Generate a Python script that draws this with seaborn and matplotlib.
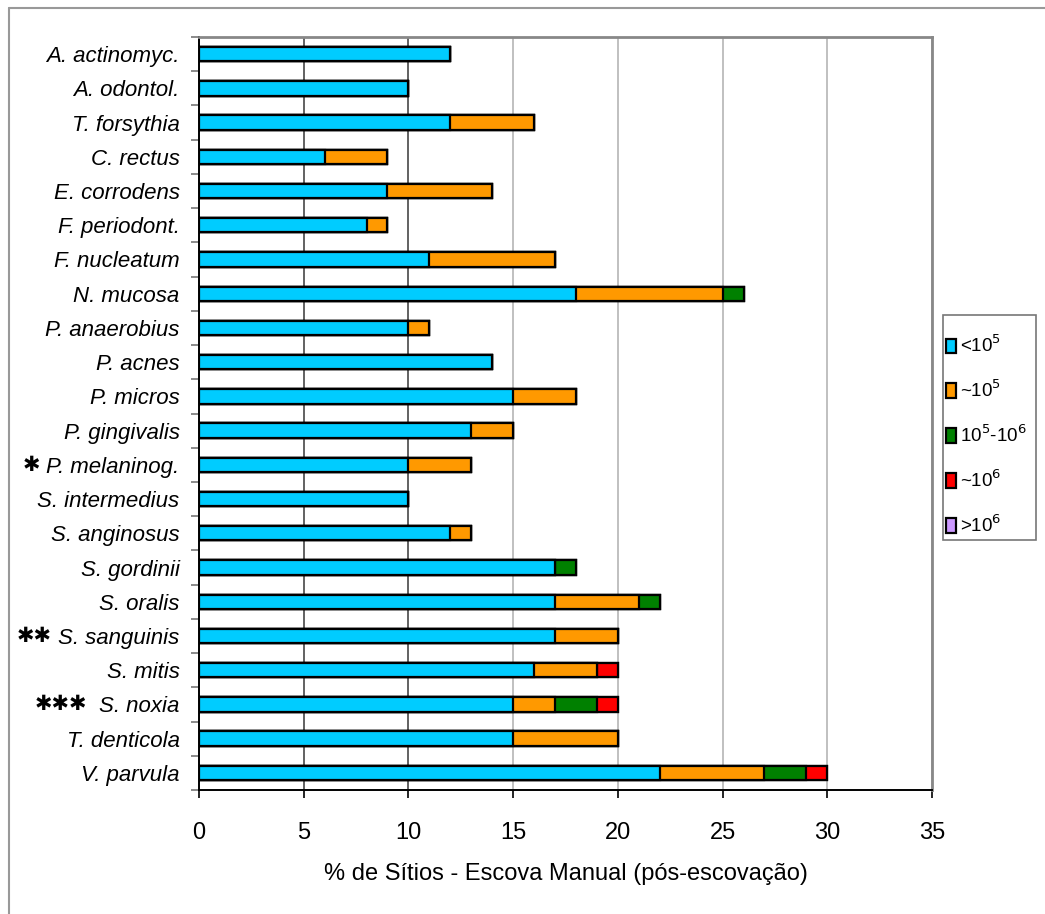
import numpy as np
import pandas as pd
import matplotlib
matplotlib.use("Agg")
import matplotlib.pyplot as plt
import matplotlib.transforms as mtransforms
from matplotlib.lines import Line2D
from matplotlib.patches import Patch, Rectangle
import seaborn as sns

species = ["A. actinomyc.", "A. odontol.", "T. forsythia", "C. rectus", "E. corrodens",
           "F. periodont.", "F. nucleatum", "N. mucosa", "P. anaerobius", "P. acnes",
           "P. micros", "P. gingivalis", "P. melaninog.", "S. intermedius", "S. anginosus",
           "S. gordinii", "S. oralis", "S. sanguinis", "S. mitis", "S. noxia",
           "T. denticola", "V. parvula"]
lt_1e5     = [12, 10, 12, 6, 9, 8, 11, 18, 10, 14, 15, 13, 10, 10, 12, 17, 17, 17, 16, 15, 15, 22]
approx_1e5 = [0, 0, 4, 3, 5, 1, 6, 7, 1, 0, 3, 2, 3, 0, 1, 0, 4, 3, 3, 2, 5, 5]
e5_to_e6   = [0, 0, 0, 0, 0, 0, 0, 1, 0, 0, 0, 0, 0, 0, 0, 1, 1, 0, 0, 2, 0, 2]
approx_1e6 = [0, 0, 0, 0, 0, 0, 0, 0, 0, 0, 0, 0, 0, 0, 0, 0, 0, 0, 1, 1, 0, 1]
gt_1e6     = [0, 0, 0, 0, 0, 0, 0, 0, 0, 0, 0, 0, 0, 0, 0, 0, 0, 0, 0, 0, 0, 0]
series_labels = ["<10$^5$", "~10$^5$", "10$^5$-10$^6$", "~10$^6$", ">10$^6$"]
series_colors = ["#00CCFF", "#FF9900", "#008000", "#FF0000", "#CC99FF"]
star_marks = {"P. melaninog.": "\u2731", "S. sanguinis": "\u2731\u2731", "S. noxia": "\u2731\u2731\u2731"}
star_gap_px = {"P. melaninog.": 6, "S. sanguinis": 7, "S. noxia": 12}
x_ticks = [0, 5, 10, 15, 20, 25, 30, 35]
x_label = "% de Sítios - Escova Manual (pós-escovação)"

sns.set_theme(style="white")
plt.rcParams["font.family"] = ["Liberation Sans", "DejaVu Sans"]
plt.rcParams["text.color"] = "black"
plt.rcParams["axes.labelcolor"] = "black"
plt.rcParams["xtick.color"] = "black"
plt.rcParams["ytick.color"] = "black"

df = pd.DataFrame({"species": species, "s0": lt_1e5, "s1": approx_1e5,
                   "s2": e5_to_e6, "s3": approx_1e6, "s4": gt_1e6})
cum = df[["s0", "s1", "s2", "s3", "s4"]].cumsum(axis=1)

W, H = 1045, 914
fig = plt.figure(figsize=(W / 100, H / 100), dpi=100)
ax = fig.add_axes([199 / W, 1 - 790 / H, (932 - 199) / W, (790 - 37) / H])

for i in reversed(range(5)):
    sns.barplot(x=cum[f"s{i}"].values, y=df["species"], orient="h", color=series_colors[i],
                saturation=1, width=0.42, edgecolor="black", linewidth=1.6, ax=ax, zorder=3)

ax.set_xlim(0, 35)
ax.set_ylim(len(species) - 0.5, -0.5)
ax.set_xticks(x_ticks)
ax.set_xticklabels([str(t) for t in x_ticks], fontsize=17)
ax.set_xlabel(x_label, fontsize=17, labelpad=14, color="black")
ax.set_ylabel("")

# y ticks: boundaries as major ticks, labels at centers as minor ticks
ax.set_yticks(np.arange(-0.5, len(species) + 0.5, 1))
ax.set_yticklabels([])
ax.set_yticks(np.arange(len(species)), minor=True)
ax.set_yticklabels(species, minor=True, fontsize=16, style="italic", color="black")
ax.tick_params(axis="y", which="major", left=True, length=6, width=1.2, color="#777777", direction="out")
ax.tick_params(axis="y", which="minor", left=True, length=0, pad=14)
ax.tick_params(axis="x", which="major", bottom=True, length=6, width=1.2, color="black",
               direction="out", pad=17, labelcolor="black")

ax.xaxis.grid(True, zorder=0)
ax.set_axisbelow(True)
for t, gl in zip(x_ticks, ax.xaxis.get_gridlines()):
    gl.set_color("#555555" if t in (5, 10) else "#BBBBBB")
    gl.set_linewidth(1.3)

for side in ["left", "bottom"]:
    ax.spines[side].set_color("black")
    ax.spines[side].set_linewidth(1.4)
for side in ["top", "right"]:
    ax.spines[side].set_color("#888888")
    ax.spines[side].set_linewidth(2.0)

# significance markers, placed just left of their tick labels
fig.canvas.draw()
renderer = fig.canvas.get_renderer()
labels_by_name = {lab.get_text(): lab for lab in ax.get_yticklabels(minor=True)}
trans = mtransforms.blended_transform_factory(fig.transFigure, ax.transData)
for name, mark in star_marks.items():
    yi = species.index(name)
    bb = labels_by_name[name].get_window_extent(renderer)
    xr = (bb.x0 - star_gap_px[name]) / W
    fig.text(xr, yi, mark, transform=trans, ha="right", va="center",
             fontsize=15, fontweight="bold", family="DejaVu Sans", color="black")

# legend: separate frame box + frameless legend inside it
fig.add_artist(Rectangle((943 / W, 1 - 540 / H), (1036 - 943) / W, (540 - 315) / H,
                         transform=fig.transFigure, facecolor="white", edgecolor="#777777",
                         linewidth=1.2, zorder=4))
handles = [Patch(facecolor=c, edgecolor="black", linewidth=1.6) for c in series_colors]
leg = fig.legend(handles, series_labels, loc="upper left", bbox_to_anchor=(946 / W, 1 - 335 / H),
                 frameon=False, fontsize=13.5,
                 handlelength=0.55, handleheight=0.85, handletextpad=0.2, labelspacing=1.25,
                 borderpad=0, borderaxespad=0)
leg.set_zorder(5)
for txt in leg.get_texts():
    txt.set_color("black")

# outer chart frame (left & top)
fig.add_artist(Line2D([9 / W, 9 / W], [0, 1 - 8 / H], transform=fig.transFigure, color="#999999", lw=1.5))
fig.add_artist(Line2D([9 / W, 1], [1 - 8 / H, 1 - 8 / H], transform=fig.transFigure, color="#999999", lw=1.5))

fig.savefig("out.png", dpi=100, facecolor="white")
